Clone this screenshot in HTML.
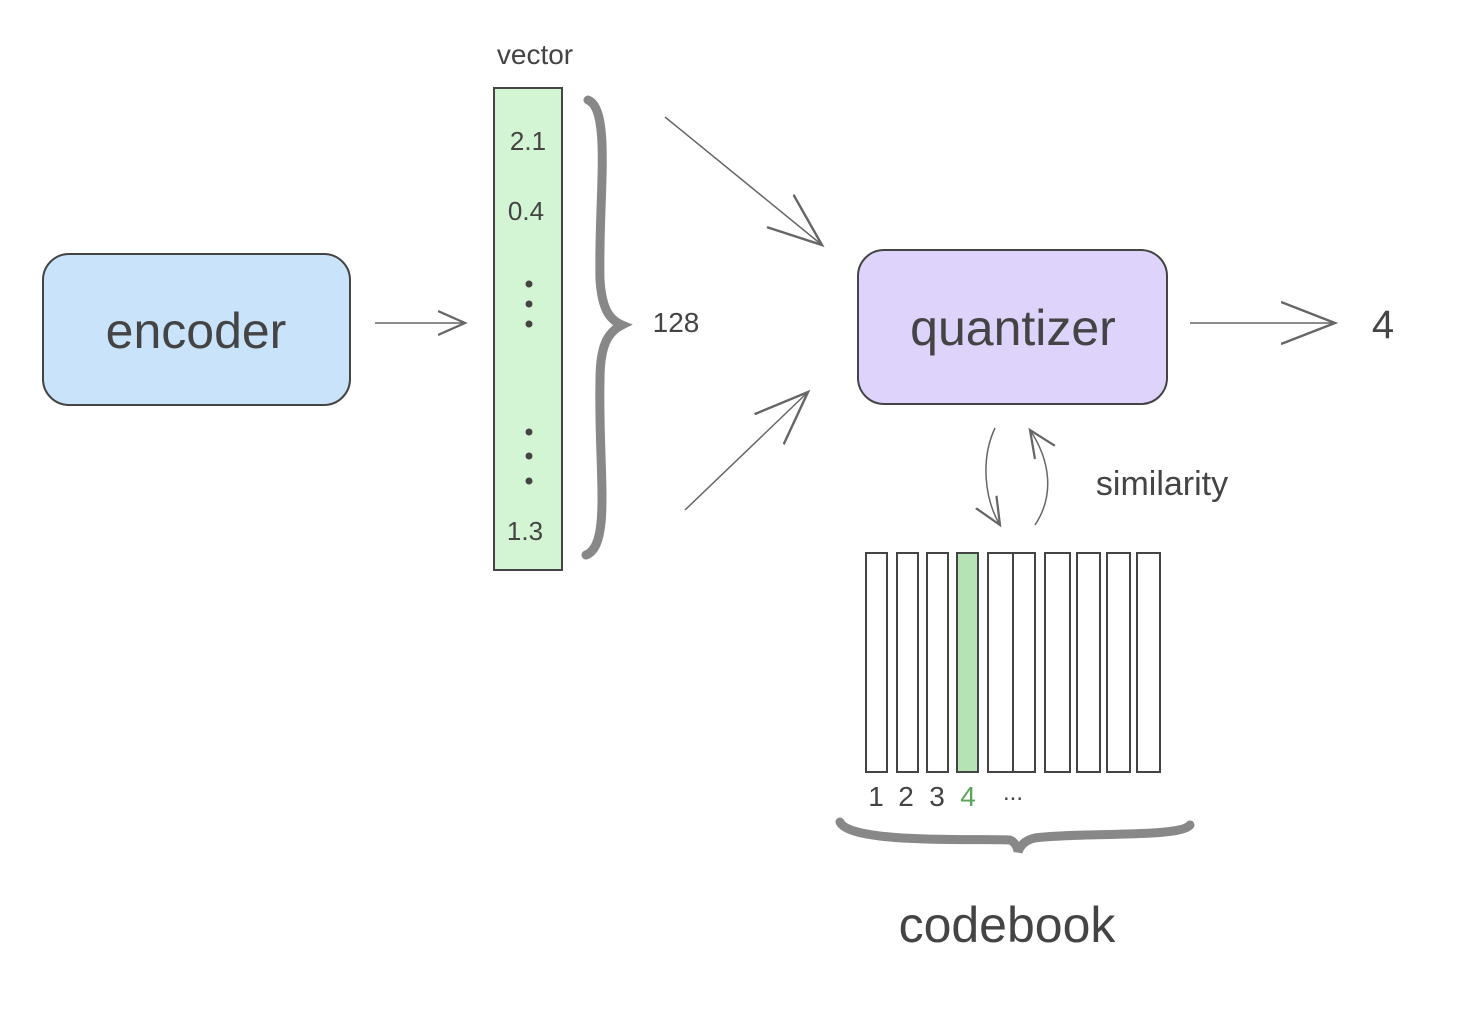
<!DOCTYPE html>
<html><head><meta charset="utf-8"><style>
html,body{margin:0;padding:0;background:#fff;}
svg text{font-family:"Liberation Sans",sans-serif;fill:#444;}
</style></head><body>
<svg width="1472" height="1028" viewBox="0 0 1472 1028" xmlns="http://www.w3.org/2000/svg">
<defs>
<marker id="ah" viewBox="0 0 20 20" refX="18" refY="10" markerWidth="30" markerHeight="30" markerUnits="userSpaceOnUse" orient="auto">
<path d="M0,2 L18,10 L0,18" fill="none" stroke="#666" stroke-width="1.5"/>
</marker>
<marker id="ah2" viewBox="0 0 20 20" refX="18" refY="10" markerWidth="60" markerHeight="60" markerUnits="userSpaceOnUse" orient="auto">
<path d="M0,3 L18,10 L0,17" fill="none" stroke="#666" stroke-width="0.8"/>
</marker>
</defs>
<rect x="43" y="254" width="307" height="151" rx="26" fill="#c9e3fb" stroke="#444" stroke-width="2"/>
<text x="196" y="348" font-size="50" text-anchor="middle">encoder</text>

<text x="535" y="64" font-size="28" text-anchor="middle">vector</text>
<rect x="494" y="88" width="68" height="482" fill="#d3f5d3" stroke="#444" stroke-width="2"/>
<text x="528" y="150" font-size="26" text-anchor="middle">2.1</text>
<text x="526" y="220" font-size="26" text-anchor="middle">0.4</text>
<g fill="#444"><circle cx="529" cy="284" r="3.5"/><circle cx="529" cy="304" r="3.5"/><circle cx="529" cy="324" r="3.5"/>
<circle cx="529" cy="432" r="3.5"/><circle cx="529" cy="456" r="3.5"/><circle cx="529" cy="481" r="3.5"/></g>
<text x="525" y="540" font-size="26" text-anchor="middle">1.3</text>

<path d="M588,100 C612,110 598,200 600,280 C602,310 610,320 622,325 C608,332 600,345 600,380 C598,470 612,545 586,555" fill="none" stroke="#888" stroke-width="9" stroke-linecap="round"/>
<text x="676" y="332" font-size="28" text-anchor="middle">128</text>

<line x1="375" y1="323" x2="465" y2="323" stroke="#666" stroke-width="1.5" marker-end="url(#ah)"/>
<line x1="665" y1="117" x2="822" y2="245" stroke="#666" stroke-width="1.5" marker-end="url(#ah2)"/>
<line x1="685" y1="510" x2="808" y2="392" stroke="#666" stroke-width="1.5" marker-end="url(#ah2)"/>

<rect x="858" y="250" width="309" height="154" rx="26" fill="#ddd3fb" stroke="#444" stroke-width="2"/>
<text x="1013" y="345" font-size="50" text-anchor="middle">quantizer</text>

<line x1="1190" y1="323" x2="1335" y2="323" stroke="#666" stroke-width="1.5" marker-end="url(#ah2)"/>
<text x="1383" y="338" font-size="40" text-anchor="middle">4</text>

<path d="M995,428 C980,460 985,500 1000,525" fill="none" stroke="#666" stroke-width="1.5" marker-end="url(#ah)"/>
<path d="M1035,525 C1055,495 1050,460 1030,430" fill="none" stroke="#666" stroke-width="1.5" marker-end="url(#ah)"/>
<text x="1162" y="495" font-size="34" text-anchor="middle">similarity</text>

<g stroke="#444" stroke-width="2" fill="#fff">
<rect x="866" y="553" width="21" height="219"/>
<rect x="897" y="553" width="21" height="219"/>
<rect x="927" y="553" width="21" height="219"/>
<rect x="957" y="553" width="21" height="219" fill="#b6e3b6"/>
<rect x="988" y="553" width="47" height="219"/>
<line x1="1013" y1="553" x2="1013" y2="772"/>
<rect x="1045" y="553" width="25" height="219"/>
<rect x="1077" y="553" width="23" height="219"/>
<rect x="1107" y="553" width="23" height="219"/>
<rect x="1137" y="553" width="23" height="219"/>
</g>
<text x="876" y="806" font-size="28" text-anchor="middle">1</text>
<text x="906" y="806" font-size="28" text-anchor="middle">2</text>
<text x="937" y="806" font-size="28" text-anchor="middle">3</text>
<text x="968" y="806" font-size="28" text-anchor="middle" style="fill:#5aa55a">4</text>
<text x="1013" y="800" font-size="24" text-anchor="middle">...</text>

<path d="M840,822 C850,845 990,838 1010,840 C1015,842 1018,848 1018,852 C1020,846 1025,840 1035,838 C1080,832 1180,838 1190,825" fill="none" stroke="#888" stroke-width="9" stroke-linecap="round"/>
<text x="1007" y="942" font-size="50" text-anchor="middle">codebook</text>
</svg>
</body></html>
